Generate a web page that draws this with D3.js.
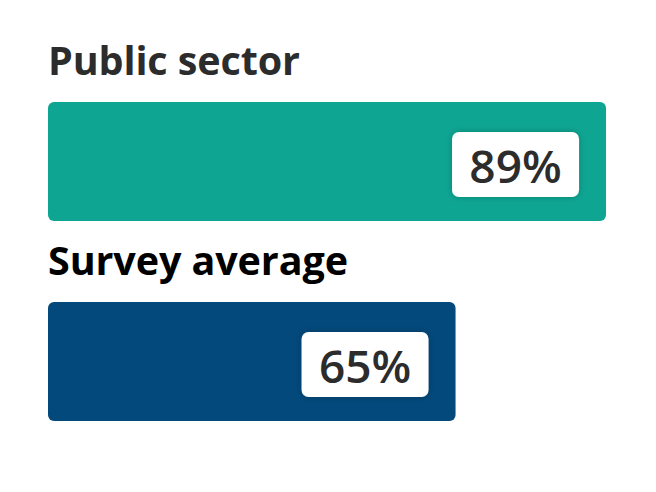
<!DOCTYPE html>
<html>
<head>
  <meta charset="utf-8">
  <script src="https://d3js.org/d3.v7.min.js"></script>
  <style>
    body { margin: 0; background: #fff; }
    text { font-family: "Open Sans", sans-serif; font-weight: 700; }
  </style>
</head>
<body>
<div id="chart"></div>
<script>

const width = 656;
const height = 492;

// values
const categories = ["Public sector", "Survey average"];
const values = [89, 65];
const valueLabels = ["89%", "65%"];
const barColors = ["#0ea592", "#03497b"];
const titleColors = ["#2c2c2c", "#000000"];

// full scale (100%) runs past the right edge
const x = d3.scaleLinear().domain([0, 100]).range([48, 675]);

const y = d3.scaleBand()
    .domain(categories)
    .range([30, 430])
    .paddingInner(0);

const svg = d3.select("#chart").append("svg")
    .attr("width", width)
    .attr("height", height);

const defs = svg.append("defs");
defs.append("filter")
    .attr("id", "shadow")
    .attr("x", "-20%").attr("y", "-30%")
    .attr("width", "140%").attr("height", "160%")
  .append("feDropShadow")
    .attr("dx", 0).attr("dy", 0)
    .attr("stdDeviation", 3)
    .attr("flood-color", "#000")
    .attr("flood-opacity", 0.22);

const rows = svg.selectAll("g.row")
    .data(categories)
    .enter()
    .append("g")
    .attr("class", "row")
    .attr("transform", d => `translate(0,${y(d)})`);

// titles
rows.append("text")
    .attr("x", 48)
    .attr("y", 45)
    .attr("fill", (d, i) => titleColors[i])
    .style("font-size", "39.5px")
    .style("letter-spacing", "-0.1px")
    .text(d => d);

// bars
const barTop = 72, barH = 119;
rows.append("rect")
    .attr("x", x(0))
    .attr("y", barTop)
    .attr("width", (d, i) => x(values[i]) - x(0))
    .attr("height", barH)
    .attr("rx", 6)
    .attr("fill", (d, i) => barColors[i]);

// value boxes
const boxW = 127, boxH = 65, pad = 27;

rows.append("rect")
    .attr("x", (d, i) => x(values[i]) - pad - boxW)
    .attr("y", barTop + 30)
    .attr("width", boxW)
    .attr("height", boxH)
    .attr("rx", 7)
    .attr("fill", "#fff")
    .attr("filter", "url(#shadow)");

rows.append("text")
    .attr("x", (d, i) => x(values[i]) - pad - boxW / 2)
    .attr("y", barTop + 30 + 51)
    .attr("text-anchor", "middle")
    .attr("fill", "#2c2c2c")
    .style("font-size", "46px")
    .style("font-weight", 600)
    .text((d, i) => valueLabels[i]);

</script>
</body>
</html>
